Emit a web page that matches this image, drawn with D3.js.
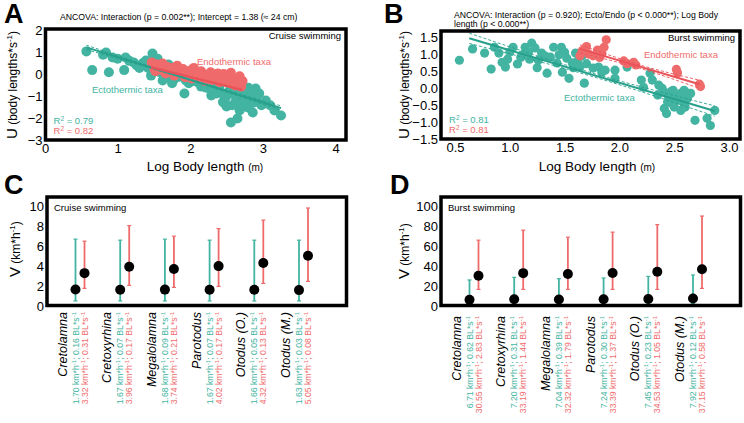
<!DOCTYPE html>
<html>
<head>
<meta charset="utf-8">
<script src="https://cdn.jsdelivr.net/npm/d3@7"></script>
<style>
  body { margin: 0; background: #fff; }
  svg { display: block; }
  text { font-family: "Liberation Sans", Arial, sans-serif; }
</style>
</head>
<body>
<script>
var width = 744;
var height = 423;

var teal = "#42b4a1";
var red = "#ef6b6b";
var tealLine = "#26a08b";
var redLine = "#ea5259";

// ---- panel A: cruise swimming, [log body length, U] ----
var cruiseEcto = [
  [0.57,1.05],[0.65,0.2],[0.80,0.90],[0.84,1.0],[0.88,0.1],[0.93,0.77],[1.00,0.72],[1.09,0.2],
  [1.11,0.77],[1.16,0.62],[1.22,0.55],[1.26,0.42],[1.30,0.30],[1.35,0.52],[1.39,0.64],[1.42,0.30],
  [1.46,-0.05],[1.48,0.95],[1.53,0.50],[1.55,0.72],[1.58,0.10],[1.62,-0.27],[1.65,0.20],[1.70,0.45],
  [1.71,-0.13],[1.75,-0.40],[1.78,-0.20],[1.80,0.30],[1.85,-0.10],[1.92,-0.86],[1.94,-0.27],[1.98,-0.40],
  [2.00,-0.10],[2.05,-0.30],[2.12,-0.40],[2.15,-0.55],[2.20,-0.35],[2.22,-0.60],[2.28,-0.45],[2.29,-0.95],
  [2.30,-0.75],[2.36,-0.50],[2.36,-0.86],[2.40,-0.60],[2.44,-0.86],[2.45,-1.25],[2.47,-1.30],[2.49,-1.04],
  [2.50,-1.45],[2.54,-0.73],[2.55,-0.45],[2.56,-2.18],[2.58,-1.40],[2.60,-0.90],[2.62,-0.55],[2.63,-1.18],
  [2.65,-2.00],[2.65,-1.10],[2.68,-1.64],[2.70,-1.35],[2.72,-0.73],[2.74,-1.05],[2.77,-1.18],[2.79,-1.50],
  [2.80,-0.60],[2.81,-0.82],[2.84,-1.30],[2.86,-1.73],[2.86,-0.86],[2.88,-1.27],[2.90,-0.64],[2.91,-1.04],
  [2.95,-0.86],[2.98,-1.40],[3.02,-1.32],[3.04,-1.18],[3.10,-1.40],[3.16,-1.64],[3.25,-1.86]
];
var cruiseEndo = [
  [1.47,0.55],[1.50,0.30],[1.52,0.15],[1.55,0.45],[1.60,0.22],[1.62,0.50],[1.66,0.05],[1.68,0.35],
  [1.72,0.12],[1.75,0.30],[1.78,-0.05],[1.80,0.18],[1.82,0.40],[1.86,0.05],[1.90,0.25],[1.93,-0.12],
  [1.95,0.10],[2.00,0.18],[2.02,-0.18],[2.05,0.30],[2.08,0.00],[2.12,-0.15],[2.15,0.15],[2.18,-0.05],
  [2.20,-0.30],[2.24,-0.10],[2.28,0.10],[2.30,-0.25],[2.34,-0.10],[2.38,0.05],[2.40,-0.35],[2.42,-0.15],
  [2.46,0.02],[2.48,-0.30],[2.52,-0.12],[2.55,-0.40],[2.56,0.08],[2.60,-0.20],[2.62,-0.50],[2.65,-0.30],
  [2.68,-0.08],[2.70,-0.55],[2.72,-0.30]
];
// fitted lines: [xFrom, xTo, intercept, slope, ciCentre, ciEnds]
var cruiseEctoFit = [0.57, 3.25, 1.82, -1.03, 0.03, 0.10];
var cruiseEndoFit = [1.46, 2.72, 1.53, -0.82, 0.02, 0.05];
var cruiseR2 = ["0.79", "0.82"];

// ---- panel B: burst swimming ----
var burstEcto = [
  [0.54,0.82],[0.66,1.15],[0.77,1.03],[0.83,0.56],[0.86,1.20],[0.90,1.03],[0.93,0.76],[0.96,0.62],
  [0.98,0.85],[1.00,1.06],[1.03,1.20],[1.07,0.71],[1.10,0.90],[1.11,0.97],[1.14,1.20],[1.17,1.06],
  [1.18,0.85],[1.20,1.32],[1.23,1.18],[1.25,0.60],[1.26,0.82],[1.29,1.03],[1.32,0.95],[1.34,0.44],
  [1.37,0.91],[1.40,1.20],[1.43,0.74],[1.45,0.98],[1.47,1.20],[1.48,0.47],[1.50,1.05],[1.52,0.88],
  [1.54,0.29],[1.57,0.74],[1.58,0.60],[1.60,1.03],[1.62,0.80],[1.64,0.62],[1.66,0.95],[1.68,0.15],
  [1.70,0.72],[1.76,0.59],[1.81,0.62],[1.84,0.47],[1.87,0.53],[1.96,0.29],[1.96,0.53],[2.07,0.62],
  [2.20,0.24],[2.22,0.03],[2.28,0.44],[2.30,0.24],[2.35,-0.20],[2.36,0.09],[2.39,0.00],[2.41,-0.12],
  [2.41,-0.59],[2.43,-0.74],[2.44,-0.40],[2.45,-0.26],[2.47,-0.10],[2.48,-0.44],[2.49,-0.06],[2.50,-0.55],
  [2.52,-0.20],[2.54,-0.35],[2.56,-0.65],[2.56,-0.15],[2.58,-0.40],[2.59,-0.06],[2.60,-0.55],[2.62,-0.30],
  [2.63,-0.15],[2.65,-0.15],[2.69,-0.94],[2.80,-0.88],[2.83,-1.09],[2.87,-0.65]
];
var burstEndo = [
  [1.64,0.95],[1.66,1.10],[1.70,1.22],[1.72,1.00],[1.76,0.95],[1.80,1.12],[1.82,0.90],[1.84,1.02],
  [1.86,1.20],[1.88,1.42],[2.04,0.80],[2.07,0.72],[2.13,0.76],[2.15,0.68],[2.52,0.55],[2.53,0.45],
  [2.73,0.12],[2.74,0.05]
];
var burstEctoFit = [0.63, 2.87, 2.06, -0.95, 0.05, 0.15];
var burstEndoFit = [1.64, 2.73, 2.71, -0.95, 0.05, 0.12];
var burstR2 = ["0.81", "0.81"];

// ---- panels C / D: estimated speeds per genus ----
var genera = ["Cretolamna", "Cretoxyrhina", "Megalolamna", "Parotodus", "Otodus (O.)", "Otodus (M.)"];

var cruiseEctoMean = [1.70, 1.67, 1.68, 1.67, 1.66, 1.63];
var cruiseEctoLow = [0.55, 0.55, 0.55, 0.55, 0.55, 0.55];
var cruiseEctoHigh = [6.7, 6.6, 6.7, 6.6, 6.6, 6.6];
var cruiseEctoBL = ["0.16", "0.07", "0.09", "0.07", "0.05", "0.03"];
var cruiseEndoMean = [3.32, 3.96, 3.74, 4.02, 4.32, 5.05];
var cruiseEndoLow = [1.8, 2.1, 1.9, 2.0, 2.3, 2.5];
var cruiseEndoHigh = [6.5, 8.05, 7.0, 7.75, 8.6, 9.8];
var cruiseEndoBL = ["0.31", "0.17", "0.21", "0.17", "0.13", "0.08"];

var burstEctoMean = [6.71, 7.20, 7.04, 7.24, 7.45, 7.92];
var burstEctoLow = [3, 3, 3, 3, 3, 3];
var burstEctoHigh = [26.4, 29, 27.7, 28.4, 30, 31.4];
var burstEctoBL = ["0.62", "0.31", "0.39", "0.30", "0.23", "0.12"];
var burstEndoMean = [30.55, 33.19, 32.32, 33.39, 34.53, 37.15];
var burstEndoLow = [17, 17, 17, 17, 17, 18];
var burstEndoHigh = [66, 76, 69, 74, 81.5, 90];
var burstEndoBL = ["2.83", "1.44", "1.79", "1.37", "1.05", "0.58"];

const svg = d3.select("body").append("svg")
  .attr("width", width)
  .attr("height", height);

// text with ^{...} superscripts
function rich(sel, str, supSize, shift) {
  var parts = str.split(/(\^\{[^}]*\})/);
  var raised = false;
  parts.forEach(function (p) {
    if (!p) return;
    if (p[0] === "^") {
      sel.append("tspan").attr("font-size", supSize).attr("dy", -shift).text(p.slice(2, -1));
      raised = true;
    } else {
      var t = sel.append("tspan").text(p);
      if (raised) { t.attr("dy", shift); raised = false; }
    }
  });
  return sel;
}

function panelLetter(x, y, s) {
  svg.append("text").attr("x", x).attr("y", y)
    .attr("font-size", 27).attr("font-weight", "bold").text(s);
}

function scatterPanel(cfg) {
  var x = d3.scaleLinear().domain(cfg.xDomain).range(cfg.xRange);
  var y = d3.scaleLinear().domain(cfg.yDomain).range(cfg.yRange);
  var g = svg.append("g");

  g.append("g").selectAll("circle").data(cfg.ecto).enter().append("circle")
    .attr("cx", function (d) { return x(d[0]); })
    .attr("cy", function (d) { return y(d[1]); })
    .attr("r", cfg.r).attr("fill", teal);
  g.append("g").selectAll("circle").data(cfg.endo).enter().append("circle")
    .attr("cx", function (d) { return x(d[0]); })
    .attr("cy", function (d) { return y(d[1]); })
    .attr("r", cfg.r).attr("fill", red);

  [[cfg.ectoFit, tealLine], [cfg.endoFit, redLine]].forEach(function (f) {
    var p = f[0], col = f[1];
    var xm = (p[0] + p[1]) / 2;
    var fit = function (v) { return p[2] + p[3] * v; };
    g.append("line")
      .attr("x1", x(p[0])).attr("y1", y(fit(p[0])))
      .attr("x2", x(p[1])).attr("y2", y(fit(p[1])))
      .attr("stroke", col).attr("stroke-width", 2);
    [1, -1].forEach(function (sgn) {
      var pts = [[p[0], fit(p[0]) + sgn * p[5]], [xm, fit(xm) + sgn * p[4]], [p[1], fit(p[1]) + sgn * p[5]]];
      g.append("path")
        .attr("d", d3.line().curve(d3.curveNatural)
          .x(function (d) { return x(d[0]); })
          .y(function (d) { return y(d[1]); })(pts))
        .attr("fill", "none").attr("stroke", col)
        .attr("stroke-width", 0.9).attr("stroke-dasharray", "3,2");
    });
  });

  var fr = cfg.frame;
  g.append("rect").attr("x", fr[0]).attr("y", fr[1])
    .attr("width", fr[2] - fr[0]).attr("height", fr[3] - fr[1])
    .attr("fill", "none").attr("stroke", "#000").attr("stroke-width", 3.5);

  var xa = g.append("g").attr("transform", "translate(0," + fr[3] + ")")
    .call(d3.axisBottom(x).tickValues(cfg.xTicks).tickFormat(cfg.xFormat).tickSize(0).tickPadding(4));
  var ya = g.append("g").attr("transform", "translate(" + fr[0] + ",0)")
    .call(d3.axisLeft(y).tickValues(cfg.yTicks).tickFormat(cfg.yFormat).tickSize(0).tickPadding(3));
  [xa, ya].forEach(function (a) {
    a.select(".domain").remove();
    a.selectAll("text").attr("font-size", 13).attr("fill", "#000")
      .attr("font-family", "'Liberation Sans', Arial, sans-serif");
  });

  // axis titles
  var yl = g.append("text")
    .attr("transform", "translate(" + cfg.yLabel[0] + "," + cfg.yLabel[1] + ") rotate(-90)")
    .attr("font-size", 12);
  yl.append("tspan").attr("font-size", 15).text("U");
  rich(yl, " (body lengths*s^{-1})", 8, 5);
  var xl = g.append("text").attr("x", cfg.xLabel[0]).attr("y", cfg.xLabel[1])
    .attr("text-anchor", "middle").attr("font-size", 13.5);
  xl.append("tspan").text("Log Body length ");
  xl.append("tspan").attr("font-size", 10).text("(m)");

  // annotations
  g.append("text").attr("x", fr[2] - 5).attr("y", fr[1] + 10)
    .attr("text-anchor", "end").attr("font-size", 9.5).text(cfg.mode);
  g.append("text").attr("x", cfg.endoLab[0]).attr("y", cfg.endoLab[1])
    .attr("font-size", 9.5).attr("fill", red).text("Endothermic taxa");
  g.append("text").attr("x", cfg.ectoLab[0]).attr("y", cfg.ectoLab[1])
    .attr("font-size", 9.5).attr("fill", teal).text("Ectothermic taxa");
  rich(g.append("text").attr("x", fr[0] + 8).attr("y", fr[3] - 16)
    .attr("font-size", 9.5).attr("fill", teal), "R^{2} = " + cfg.r2[0], 6.5, 3);
  rich(g.append("text").attr("x", fr[0] + 8).attr("y", fr[3] - 6)
    .attr("font-size", 9.5).attr("fill", red), "R^{2} = " + cfg.r2[1], 6.5, 3);

  cfg.title.forEach(function (line, i) {
    g.append("text").attr("x", cfg.titleX).attr("y", cfg.titleY + i * 9.8)
      .attr("font-size", 8.7).text(line);
  });
}

function barPanel(cfg) {
  var fr = cfg.frame;
  var x = d3.scalePoint().domain(genera).range([fr[0] + 33, fr[2] - 43]);
  var y = d3.scaleLinear().domain(cfg.yDomain).range([fr[3] + 1, 206]);
  var g = svg.append("g");
  var off = 4.5;

  var series = [
    { col: teal, dx: -off, mean: cfg.ectoMean, lo: cfg.ectoLow, hi: cfg.ectoHigh },
    { col: red, dx: off, mean: cfg.endoMean, lo: cfg.endoLow, hi: cfg.endoHigh }
  ];
  series.forEach(function (s) {
    var bars = g.append("g").selectAll("g").data(genera).enter().append("g")
      .attr("transform", function (d) { return "translate(" + (x(d) + s.dx) + ",0)"; });
    bars.append("line").attr("y1", function (d, i) { return y(s.lo[i]); })
      .attr("y2", function (d, i) { return y(s.hi[i]); })
      .attr("stroke", s.col).attr("stroke-width", 1.8);
    bars.append("line").attr("x1", -2).attr("x2", 2)
      .attr("y1", function (d, i) { return y(s.hi[i]); }).attr("y2", function (d, i) { return y(s.hi[i]); })
      .attr("stroke", s.col).attr("stroke-width", 1.2);
    bars.append("line").attr("x1", -2).attr("x2", 2)
      .attr("y1", function (d, i) { return y(s.lo[i]); }).attr("y2", function (d, i) { return y(s.lo[i]); })
      .attr("stroke", s.col).attr("stroke-width", 1.2);
  });
  series.forEach(function (s) {
    g.append("g").selectAll("circle").data(genera).enter().append("circle")
      .attr("cx", function (d) { return x(d) + s.dx; })
      .attr("cy", function (d, i) { return y(s.mean[i]); })
      .attr("r", 5).attr("fill", "#000");
  });

  g.append("rect").attr("x", fr[0]).attr("y", fr[1])
    .attr("width", fr[2] - fr[0]).attr("height", fr[3] - fr[1])
    .attr("fill", "none").attr("stroke", "#000").attr("stroke-width", 3.5);

  var ya = g.append("g").attr("transform", "translate(" + fr[0] + ",0)")
    .call(d3.axisLeft(y).tickValues(cfg.yTicks).tickSize(0).tickPadding(3));
  ya.select(".domain").remove();
  ya.selectAll("text").attr("font-size", 13).attr("fill", "#000")
    .attr("font-family", "'Liberation Sans', Arial, sans-serif");

  var yl = g.append("text")
    .attr("transform", "translate(" + cfg.yLabel[0] + "," + cfg.yLabel[1] + ") rotate(-90)")
    .attr("font-size", 12);
  yl.append("tspan").attr("font-size", 15).text("V");
  rich(yl, " (km*h^{-1})", 8, 5);

  g.append("text").attr("x", fr[0] + 7).attr("y", fr[1] + 14)
    .attr("font-size", 9.5).text(cfg.mode);

  // rotated genus names and speed labels
  genera.forEach(function (d, i) {
    var xt = x(d) - off;
    var xr = x(d) + off;
    g.append("text")
      .attr("transform", "translate(" + (xt - 9) + "," + cfg.labelTop + ") rotate(-90)")
      .attr("text-anchor", "end").attr("font-size", 12.5).attr("font-style", "italic").text(d);
    rich(g.append("text")
      .attr("transform", "translate(" + (xt + 3) + "," + cfg.labelTop + ") rotate(-90)")
      .attr("text-anchor", "end").attr("font-size", 8.7).attr("fill", teal),
      cfg.ectoMean[i].toFixed(2) + " km*h^{-1}; " + cfg.ectoBL[i] + " BL*s^{-1}", 6, 3);
    rich(g.append("text")
      .attr("transform", "translate(" + (xr + 3) + "," + cfg.labelTop + ") rotate(-90)")
      .attr("text-anchor", "end").attr("font-size", 8.7).attr("fill", red),
      cfg.endoMean[i].toFixed(2) + " km*h^{-1}; " + cfg.endoBL[i] + " BL*s^{-1}", 6, 3);
  });
}

panelLetter(4, 23, "A");
panelLetter(384, 23, "B");
panelLetter(4, 194, "C");
panelLetter(390, 194, "D");

scatterPanel({
  frame: [45.5, 29, 346, 140],
  xDomain: [0, 4], xRange: [45, 335.5],
  yDomain: [-3, 2], yRange: [140.5, 30.5],
  xTicks: [0, 1, 2, 3, 4], xFormat: d3.format("d"),
  yTicks: [-3, -2, -1, 0, 1, 2], yFormat: d3.format("d"),
  ecto: cruiseEcto, endo: cruiseEndo, r: 5,
  ectoFit: cruiseEctoFit, endoFit: cruiseEndoFit, r2: cruiseR2,
  mode: "Cruise swimming",
  endoLab: [197, 65], ectoLab: [92, 93],
  yLabel: [17, 139], xLabel: [205, 171],
  titleX: 60, titleY: 20,
  title: ["ANCOVA: Interaction (p = 0.002**); Intercept = 1.38 (\u2248 24 cm)"]
});

scatterPanel({
  frame: [441, 31, 740, 139],
  xDomain: [0.5, 3.0], xRange: [455, 729],
  yDomain: [-1.5, 1.5], yRange: [139.5, 37],
  xTicks: [0.5, 1.0, 1.5, 2.0, 2.5, 3.0], xFormat: d3.format(".1f"),
  yTicks: [-1.5, -1.0, -0.5, 0.0, 0.5, 1.0, 1.5], yFormat: d3.format(".1f"),
  ecto: burstEcto, endo: burstEndo, r: 4.6,
  ectoFit: burstEctoFit, endoFit: burstEndoFit, r2: burstR2,
  mode: "Burst swimming",
  endoLab: [644, 58], ectoLab: [564, 101],
  yLabel: [409, 139], xLabel: [597, 171],
  titleX: 454, titleY: 17.5,
  title: ["ANCOVA: Interaction (p = 0.920); Ecto/Endo (p < 0.000**); Log Body", "length (p < 0.000**)"]
});

barPanel({
  frame: [47, 197, 346.5, 305.5],
  yDomain: [0, 10], yTicks: [0, 2, 4, 6, 8, 10],
  ectoMean: cruiseEctoMean, ectoLow: cruiseEctoLow, ectoHigh: cruiseEctoHigh, ectoBL: cruiseEctoBL,
  endoMean: cruiseEndoMean, endoLow: cruiseEndoLow, endoHigh: cruiseEndoHigh, endoBL: cruiseEndoBL,
  mode: "Cruise swimming", yLabel: [20, 277], labelTop: 312
});

barPanel({
  frame: [441, 197, 740.5, 305.5],
  yDomain: [0, 100], yTicks: [0, 20, 40, 60, 80, 100],
  ectoMean: burstEctoMean, ectoLow: burstEctoLow, ectoHigh: burstEctoHigh, ectoBL: burstEctoBL,
  endoMean: burstEndoMean, endoLow: burstEndoLow, endoHigh: burstEndoHigh, endoBL: burstEndoBL,
  mode: "Burst swimming", yLabel: [409, 279], labelTop: 316
});
</script>
</body>
</html>
